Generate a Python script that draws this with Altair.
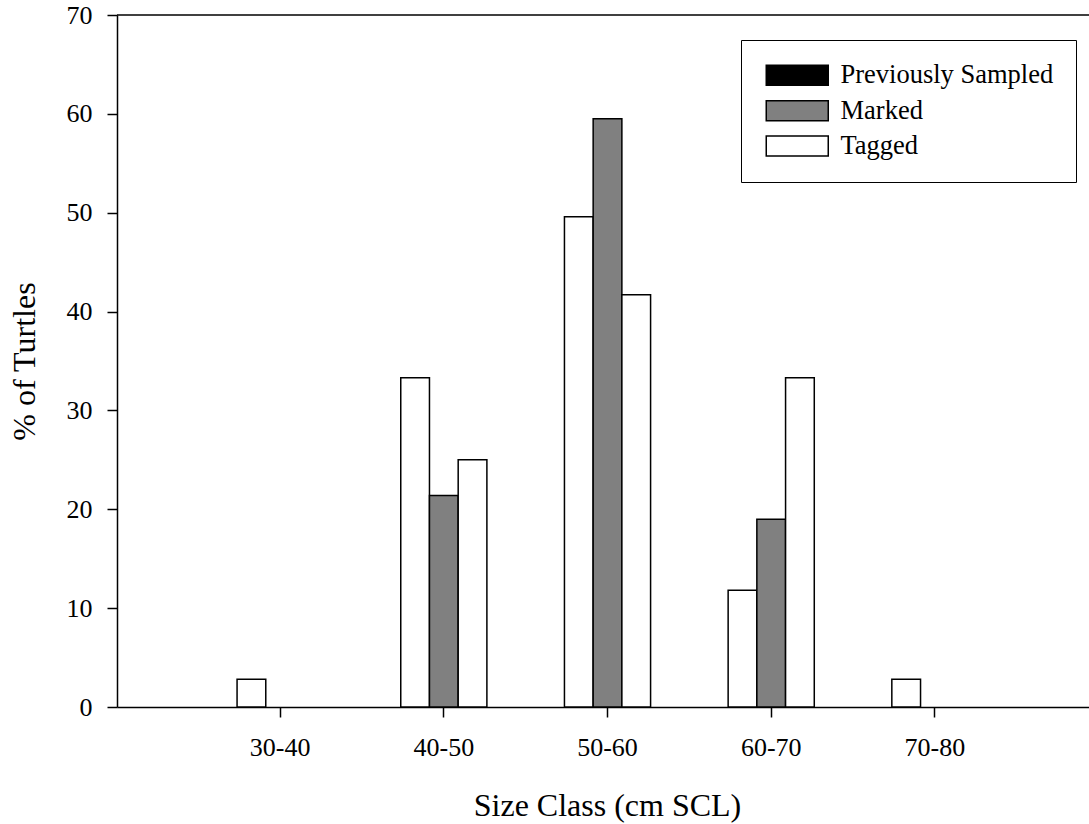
import altair as alt
import pandas as pd

# ---- data ----
size_classes = ["30-40", "40-50", "50-60", "60-70", "70-80"]
series_names = ["Previously Sampled", "Marked", "Tagged"]
prev_sampled = [2.8, 33.3, 49.6, 11.8, 2.8]
marked = [0.0, 21.4, 59.5, 19.0, 0.0]
tagged = [0.0, 25.0, 41.7, 33.3, 0.0]
y_ticks = [0, 10, 20, 30, 40, 50, 60, 70]
y_max = 70

# colours as drawn in the bars, and as drawn in the legend
bar_fills = ["white", "#808080", "white"]
legend_fills = ["black", "#808080", "white"]

rows = []
for s, vals in zip(series_names, [prev_sampled, marked, tagged]):
    for c, v in zip(size_classes, vals):
        if v > 0:
            rows.append({"size_class": c, "series": s, "pct": v})
df = pd.DataFrame(rows)

FONT = "Liberation Serif"

x_enc = alt.X(
    "size_class:N",
    sort=size_classes,
    scale=alt.Scale(domain=size_classes, paddingInner=0.123, paddingOuter=0.5305, align=0.526),
    axis=alt.Axis(
        title="Size Class (cm SCL)",
        labelAngle=0,
        labelFont=FONT,
        labelFontSize=26,
        labelColor="black",
        labelBaseline="alphabetic",
        labelPadding=38,
        tickSize=10,
        tickWidth=1.5,
        tickColor="black",
        domainColor="black",
        domainWidth=1.5,
        titleFont=FONT,
        titleFontSize=32,
        titleFontWeight="normal",
        titleColor="black",
        titleBaseline="alphabetic",
        titleX=490,
        titleY=108,
        grid=False,
    ),
)
xoff_enc = alt.XOffset(
    "series:N",
    sort=series_names,
    scale=alt.Scale(domain=series_names, paddingInner=0, paddingOuter=1),
)
y_enc = alt.Y(
    "pct:Q",
    scale=alt.Scale(domain=[0, y_max], nice=False, zero=True),
    axis=alt.Axis(
        title="% of Turtles",
        values=y_ticks,
        labelFont=FONT,
        labelFontSize=26,
        labelColor="black",
        labelPadding=15,
        tickSize=10,
        tickWidth=1.5,
        tickColor="black",
        domainColor="black",
        domainWidth=1.5,
        titleFont=FONT,
        titleFontSize=32,
        titleFontWeight="normal",
        titleColor="black",
        titleBaseline="alphabetic",
        titleAngle=270,
        titleX=-83,
        titleY=346,
        grid=False,
    ),
)

bars = alt.Chart(df).mark_bar(stroke="black", strokeWidth=1.5).encode(
    x=x_enc,
    xOffset=xoff_enc,
    y=y_enc,
    fill=alt.Fill(
        "series:N",
        scale=alt.Scale(domain=series_names, range=bar_fills),
        legend=None,
    ),
)

legend_layer = alt.Chart(df).mark_bar(opacity=0).encode(
    x=x_enc,
    xOffset=xoff_enc,
    y=y_enc,
    fill=alt.Fill(
        "series:N",
        scale=alt.Scale(domain=series_names, range=legend_fills),
        legend=alt.Legend(
            title=None,
            orient="none",
            legendX=624,
            legendY=25,
            symbolType="M-1,-1H5.2V1H-1Z",
            symbolSize=400,
            symbolStrokeColor="black",
            symbolStrokeWidth=1.5,
            symbolOpacity=1,
            labelFont=FONT,
            labelFontSize=26.5,
            labelColor="black",
            labelOffset=51,
            labelLimit=0,
            rowPadding=8.4,
            padding=22,
            strokeColor="black",
            fillColor="white",
        ),
    ),
)

top_line = alt.Chart(pd.DataFrame({"v": [y_max]})).mark_rule(
    color="black", strokeWidth=1.5
).encode(y=alt.Y("v:Q"))

chart = (
    alt.layer(bars, legend_layer, top_line)
    .resolve_scale(fill="independent")
    .properties(
        width=972,
        height=692,
        autosize=alt.AutoSizeParams(type="none"),
        padding={"left": 117, "top": 15, "right": 0, "bottom": 117},
        background="white",
    )
    .configure_view(stroke=None)
)

chart.save("out.html", embed_options={"renderer": "svg", "actions": False})
